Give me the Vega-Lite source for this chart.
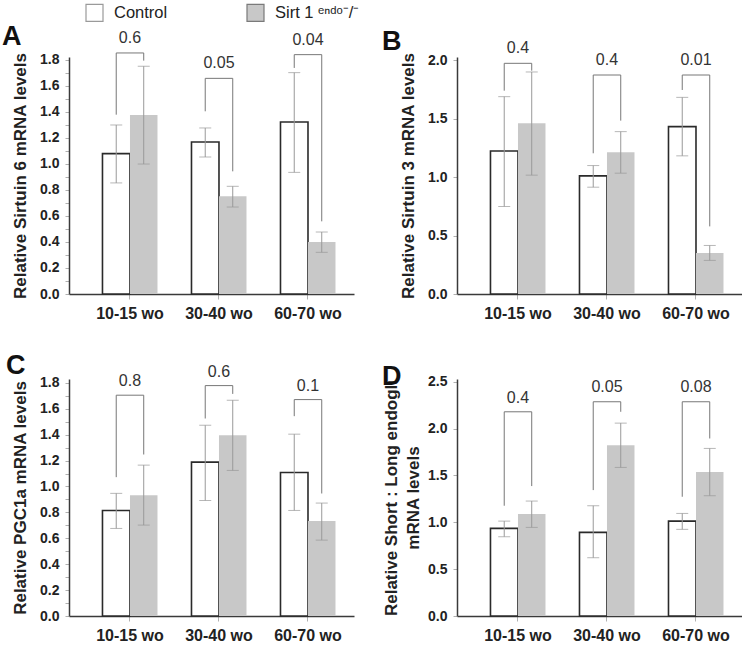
{
  "$schema": "https://vega.github.io/schema/vega-lite/v6.json",
  "padding": {"left": 2, "top": 3, "right": 0, "bottom": 0},
  "datasets": {
    "bars": [
      {"p": "A", "g": "10-15 wo", "s": "Control", "v": 1.078, "lo": 0.853, "hi": 1.298},
      {"p": "A", "g": "10-15 wo", "s": "Sirt", "v": 1.375, "lo": 0.998, "hi": 1.749},
      {"p": "A", "g": "30-40 wo", "s": "Control", "v": 1.167, "lo": 1.052, "hi": 1.275},
      {"p": "A", "g": "30-40 wo", "s": "Sirt", "v": 0.75, "lo": 0.668, "hi": 0.827},
      {"p": "A", "g": "60-70 wo", "s": "Control", "v": 1.321, "lo": 0.934, "hi": 1.7},
      {"p": "A", "g": "60-70 wo", "s": "Sirt", "v": 0.4, "lo": 0.32, "hi": 0.476},
      {"p": "B", "g": "10-15 wo", "s": "Control", "v": 1.223, "lo": 0.748, "hi": 1.687},
      {"p": "B", "g": "10-15 wo", "s": "Sirt", "v": 1.459, "lo": 1.016, "hi": 1.898},
      {"p": "B", "g": "30-40 wo", "s": "Control", "v": 1.01, "lo": 0.913, "hi": 1.098},
      {"p": "B", "g": "30-40 wo", "s": "Sirt", "v": 1.212, "lo": 1.033, "hi": 1.388},
      {"p": "B", "g": "60-70 wo", "s": "Control", "v": 1.431, "lo": 1.181, "hi": 1.681},
      {"p": "B", "g": "60-70 wo", "s": "Sirt", "v": 0.35, "lo": 0.287, "hi": 0.415},
      {"p": "C", "g": "10-15 wo", "s": "Control", "v": 0.815, "lo": 0.676, "hi": 0.947},
      {"p": "C", "g": "10-15 wo", "s": "Sirt", "v": 0.933, "lo": 0.702, "hi": 1.165},
      {"p": "C", "g": "30-40 wo", "s": "Control", "v": 1.188, "lo": 0.892, "hi": 1.473},
      {"p": "C", "g": "30-40 wo", "s": "Sirt", "v": 1.396, "lo": 1.124, "hi": 1.666},
      {"p": "C", "g": "60-70 wo", "s": "Control", "v": 1.108, "lo": 0.815, "hi": 1.404},
      {"p": "C", "g": "60-70 wo", "s": "Sirt", "v": 0.733, "lo": 0.586, "hi": 0.872},
      {"p": "D", "g": "10-15 wo", "s": "Control", "v": 0.935, "lo": 0.846, "hi": 1.013},
      {"p": "D", "g": "10-15 wo", "s": "Sirt", "v": 1.088, "lo": 0.946, "hi": 1.227},
      {"p": "D", "g": "30-40 wo", "s": "Control", "v": 0.893, "lo": 0.622, "hi": 1.177},
      {"p": "D", "g": "30-40 wo", "s": "Sirt", "v": 1.824, "lo": 1.586, "hi": 2.059},
      {"p": "D", "g": "60-70 wo", "s": "Control", "v": 1.013, "lo": 0.925, "hi": 1.095},
      {"p": "D", "g": "60-70 wo", "s": "Sirt", "v": 1.536, "lo": 1.284, "hi": 1.789}
    ],
    "brackets": [
      {"p": "A", "g": "10-15 wo", "s": "Control", "y": 1.377, "o": 1},
      {"p": "A", "g": "10-15 wo", "s": "Control", "y": 1.851, "o": 2},
      {"p": "A", "g": "10-15 wo", "s": "Sirt", "y": 1.851, "o": 3},
      {"p": "A", "g": "10-15 wo", "s": "Sirt", "y": 1.792, "o": 4},
      {"p": "A", "g": "30-40 wo", "s": "Control", "y": 1.403, "o": 1},
      {"p": "A", "g": "30-40 wo", "s": "Control", "y": 1.656, "o": 2},
      {"p": "A", "g": "30-40 wo", "s": "Sirt", "y": 1.656, "o": 3},
      {"p": "A", "g": "30-40 wo", "s": "Sirt", "y": 0.942, "o": 4},
      {"p": "A", "g": "60-70 wo", "s": "Control", "y": 1.736, "o": 1},
      {"p": "A", "g": "60-70 wo", "s": "Control", "y": 1.838, "o": 2},
      {"p": "A", "g": "60-70 wo", "s": "Sirt", "y": 1.838, "o": 3},
      {"p": "A", "g": "60-70 wo", "s": "Sirt", "y": 0.558, "o": 4},
      {"p": "B", "g": "10-15 wo", "s": "Control", "y": 1.738, "o": 1},
      {"p": "B", "g": "10-15 wo", "s": "Control", "y": 1.972, "o": 2},
      {"p": "B", "g": "10-15 wo", "s": "Sirt", "y": 1.972, "o": 3},
      {"p": "B", "g": "10-15 wo", "s": "Sirt", "y": 1.909, "o": 4},
      {"p": "B", "g": "30-40 wo", "s": "Control", "y": 1.203, "o": 1},
      {"p": "B", "g": "30-40 wo", "s": "Control", "y": 1.872, "o": 2},
      {"p": "B", "g": "30-40 wo", "s": "Sirt", "y": 1.872, "o": 3},
      {"p": "B", "g": "30-40 wo", "s": "Sirt", "y": 1.482, "o": 4},
      {"p": "B", "g": "60-70 wo", "s": "Control", "y": 1.744, "o": 1},
      {"p": "B", "g": "60-70 wo", "s": "Control", "y": 1.872, "o": 2},
      {"p": "B", "g": "60-70 wo", "s": "Sirt", "y": 1.872, "o": 3},
      {"p": "B", "g": "60-70 wo", "s": "Sirt", "y": 0.578, "o": 4},
      {"p": "C", "g": "10-15 wo", "s": "Control", "y": 1.072, "o": 1},
      {"p": "C", "g": "10-15 wo", "s": "Control", "y": 1.705, "o": 2},
      {"p": "C", "g": "10-15 wo", "s": "Sirt", "y": 1.705, "o": 3},
      {"p": "C", "g": "10-15 wo", "s": "Sirt", "y": 1.247, "o": 4},
      {"p": "C", "g": "30-40 wo", "s": "Control", "y": 1.525, "o": 1},
      {"p": "C", "g": "30-40 wo", "s": "Control", "y": 1.779, "o": 2},
      {"p": "C", "g": "30-40 wo", "s": "Sirt", "y": 1.779, "o": 3},
      {"p": "C", "g": "30-40 wo", "s": "Sirt", "y": 1.715, "o": 4},
      {"p": "C", "g": "60-70 wo", "s": "Control", "y": 1.543, "o": 1},
      {"p": "C", "g": "60-70 wo", "s": "Control", "y": 1.671, "o": 2},
      {"p": "C", "g": "60-70 wo", "s": "Sirt", "y": 1.671, "o": 3},
      {"p": "C", "g": "60-70 wo", "s": "Sirt", "y": 0.946, "o": 4},
      {"p": "D", "g": "10-15 wo", "s": "Control", "y": 1.177, "o": 1},
      {"p": "D", "g": "10-15 wo", "s": "Control", "y": 2.18, "o": 2},
      {"p": "D", "g": "10-15 wo", "s": "Sirt", "y": 2.18, "o": 3},
      {"p": "D", "g": "10-15 wo", "s": "Sirt", "y": 1.387, "o": 4},
      {"p": "D", "g": "30-40 wo", "s": "Control", "y": 1.344, "o": 1},
      {"p": "D", "g": "30-40 wo", "s": "Control", "y": 2.287, "o": 2},
      {"p": "D", "g": "30-40 wo", "s": "Sirt", "y": 2.287, "o": 3},
      {"p": "D", "g": "30-40 wo", "s": "Sirt", "y": 2.18, "o": 4},
      {"p": "D", "g": "60-70 wo", "s": "Control", "y": 1.273, "o": 1},
      {"p": "D", "g": "60-70 wo", "s": "Control", "y": 2.287, "o": 2},
      {"p": "D", "g": "60-70 wo", "s": "Sirt", "y": 2.287, "o": 3},
      {"p": "D", "g": "60-70 wo", "s": "Sirt", "y": 1.895, "o": 4}
    ],
    "labels": [
      {"p": "A", "g": "10-15 wo", "y": 1.966, "t": "0.6"},
      {"p": "A", "g": "30-40 wo", "y": 1.774, "t": "0.05"},
      {"p": "A", "g": "60-70 wo", "y": 1.953, "t": "0.04"},
      {"p": "B", "g": "10-15 wo", "y": 2.1, "t": "0.4"},
      {"p": "B", "g": "30-40 wo", "y": 2.0, "t": "0.4"},
      {"p": "B", "g": "60-70 wo", "y": 2.0, "t": "0.01"},
      {"p": "C", "g": "10-15 wo", "y": 1.818, "t": "0.8"},
      {"p": "C", "g": "30-40 wo", "y": 1.885, "t": "0.6"},
      {"p": "C", "g": "60-70 wo", "y": 1.779, "t": "0.1"},
      {"p": "D", "g": "10-15 wo", "y": 2.329, "t": "0.4"},
      {"p": "D", "g": "30-40 wo", "y": 2.447, "t": "0.05"},
      {"p": "D", "g": "60-70 wo", "y": 2.44, "t": "0.08"}
    ]
  },
  "columns": 2,
  "spacing": {"row": 85, "column": 103},
  "bounds": "flush",
  "concat": [
    {
      "width": 285, "height": 237,
      "title": {"text": "A", "anchor": "start", "frame": "group", "dx": -67, "dy": 25},
      "encoding": {"x": {"field": "g", "type": "nominal", "title": null, "scale": {"domain": ["10-15 wo", "30-40 wo", "60-70 wo"], "paddingInner": 0.382, "paddingOuter": 0.292, "align": 0.644}}},
      "layer": [
        {"data": {"name": "bars"}, "transform": [{"filter": "datum.p == 'A'"}],
         "mark": {"type": "bar", "strokeWidth": 1.6},
         "encoding": {
           "xOffset": {"field": "s", "type": "nominal", "scale": {"domain": ["Control", "Sirt"], "paddingInner": 0, "paddingOuter": 0}},
           "y": {"field": "v", "type": "quantitative", "scale": {"domain": [0, 1.82], "nice": false}, "axis": {"title": "Relative Sirtuin 6 mRNA levels", "labelOverlap": false, "values": [0, 0.1, 0.2, 0.3, 0.4, 0.5, 0.6, 0.7, 0.8, 0.9, 1.0, 1.1, 1.2, 1.3, 1.4, 1.5, 1.6, 1.7, 1.8], "labelExpr": "round(datum.value*10) % 2 == 0 ? format(datum.value, '.1f') : ''"}},
           "fill": {"field": "s", "type": "nominal", "scale": {"domain": ["Control", "Sirt"], "range": ["#ffffff", "#c8c8c8"]}, "legend": {"labelExpr": "datum.value == 'Sirt' ? 'Sirt 1 ᵉⁿᵈᵒ⁻/⁻' : 'Control'", "encode": {"symbols": {"update": {"fill": {"signal": "datum.value == 'Sirt' ? '#8c8c8c' : '#ffffff'"}, "stroke": {"signal": "datum.value == 'Sirt' ? '#7a7a7a' : '#9a9a9a'"}, "strokeWidth": {"value": 1.2}}}}}},
           "stroke": {"condition": {"test": "datum.s == 'Control'", "value": "#2a2a2a"}, "value": "transparent"}
         }},
        {"data": {"name": "bars"}, "transform": [{"filter": "datum.p == 'A'"}],
         "mark": {"type": "rule", "color": "#999999", "strokeWidth": 1},
         "encoding": {"xOffset": {"field": "s", "type": "nominal", "scale": {"domain": ["Control", "Sirt"], "paddingInner": 0, "paddingOuter": 0}}, "y": {"field": "lo", "type": "quantitative", "scale": {"domain": [0, 1.82], "nice": false}, "axis": {"title": "Relative Sirtuin 6 mRNA levels", "labelOverlap": false, "values": [0, 0.1, 0.2, 0.3, 0.4, 0.5, 0.6, 0.7, 0.8, 0.9, 1.0, 1.1, 1.2, 1.3, 1.4, 1.5, 1.6, 1.7, 1.8], "labelExpr": "round(datum.value*10) % 2 == 0 ? format(datum.value, '.1f') : ''"}}, "y2": {"field": "hi"}}},
        {"data": {"name": "bars"}, "transform": [{"filter": "datum.p == 'A'"}],
         "mark": {"type": "tick", "color": "#999999", "size": 12, "thickness": 1},
         "encoding": {"xOffset": {"field": "s", "type": "nominal", "scale": {"domain": ["Control", "Sirt"], "paddingInner": 0, "paddingOuter": 0}}, "y": {"field": "lo", "type": "quantitative", "scale": {"domain": [0, 1.82], "nice": false}, "axis": {"title": "Relative Sirtuin 6 mRNA levels", "labelOverlap": false, "values": [0, 0.1, 0.2, 0.3, 0.4, 0.5, 0.6, 0.7, 0.8, 0.9, 1.0, 1.1, 1.2, 1.3, 1.4, 1.5, 1.6, 1.7, 1.8], "labelExpr": "round(datum.value*10) % 2 == 0 ? format(datum.value, '.1f') : ''"}}}},
        {"data": {"name": "bars"}, "transform": [{"filter": "datum.p == 'A'"}],
         "mark": {"type": "tick", "color": "#999999", "size": 12, "thickness": 1},
         "encoding": {"xOffset": {"field": "s", "type": "nominal", "scale": {"domain": ["Control", "Sirt"], "paddingInner": 0, "paddingOuter": 0}}, "y": {"field": "hi", "type": "quantitative", "scale": {"domain": [0, 1.82], "nice": false}, "axis": {"title": "Relative Sirtuin 6 mRNA levels", "labelOverlap": false, "values": [0, 0.1, 0.2, 0.3, 0.4, 0.5, 0.6, 0.7, 0.8, 0.9, 1.0, 1.1, 1.2, 1.3, 1.4, 1.5, 1.6, 1.7, 1.8], "labelExpr": "round(datum.value*10) % 2 == 0 ? format(datum.value, '.1f') : ''"}}}},
        {"data": {"name": "brackets"}, "transform": [{"filter": "datum.p == 'A'"}],
         "mark": {"type": "line", "color": "#777777", "strokeWidth": 1},
         "encoding": {"xOffset": {"field": "s", "type": "nominal", "scale": {"domain": ["Control", "Sirt"], "paddingInner": 0, "paddingOuter": 0}}, "y": {"field": "y", "type": "quantitative", "scale": {"domain": [0, 1.82], "nice": false}, "axis": {"title": "Relative Sirtuin 6 mRNA levels", "labelOverlap": false, "values": [0, 0.1, 0.2, 0.3, 0.4, 0.5, 0.6, 0.7, 0.8, 0.9, 1.0, 1.1, 1.2, 1.3, 1.4, 1.5, 1.6, 1.7, 1.8], "labelExpr": "round(datum.value*10) % 2 == 0 ? format(datum.value, '.1f') : ''"}}, "order": {"field": "o", "type": "quantitative"}, "detail": {"field": "g", "type": "nominal"}}},
        {"data": {"name": "labels"}, "transform": [{"filter": "datum.p == 'A'"}],
         "mark": {"type": "text", "fontSize": 16, "color": "#333333", "baseline": "middle"},
         "encoding": {"y": {"field": "y", "type": "quantitative", "scale": {"domain": [0, 1.82], "nice": false}, "axis": {"title": "Relative Sirtuin 6 mRNA levels", "labelOverlap": false, "values": [0, 0.1, 0.2, 0.3, 0.4, 0.5, 0.6, 0.7, 0.8, 0.9, 1.0, 1.1, 1.2, 1.3, 1.4, 1.5, 1.6, 1.7, 1.8], "labelExpr": "round(datum.value*10) % 2 == 0 ? format(datum.value, '.1f') : ''"}}, "text": {"field": "t"}}}
      ]
    },
    {
      "width": 285, "height": 237,
      "title": {"text": "B", "anchor": "start", "frame": "group", "dx": -75, "dy": 20},
      "encoding": {"x": {"field": "g", "type": "nominal", "title": null, "scale": {"domain": ["10-15 wo", "30-40 wo", "60-70 wo"], "paddingInner": 0.382, "paddingOuter": 0.292, "align": 0.644}}},
      "layer": [
        {"data": {"name": "bars"}, "transform": [{"filter": "datum.p == 'B'"}],
         "mark": {"type": "bar", "strokeWidth": 1.6},
         "encoding": {
           "xOffset": {"field": "s", "type": "nominal", "scale": {"domain": ["Control", "Sirt"], "paddingInner": 0, "paddingOuter": 0}},
           "y": {"field": "v", "type": "quantitative", "scale": {"domain": [0, 2.026], "nice": false}, "axis": {"title": "Relative Sirtuin 3 mRNA levels", "values": [0, 0.5, 1.0, 1.5, 2.0], "format": ".1f"}},
           "fill": {"field": "s", "type": "nominal", "scale": {"domain": ["Control", "Sirt"], "range": ["#ffffff", "#c8c8c8"]}, "legend": {"labelExpr": "datum.value == 'Sirt' ? 'Sirt 1 ᵉⁿᵈᵒ⁻/⁻' : 'Control'", "encode": {"symbols": {"update": {"fill": {"signal": "datum.value == 'Sirt' ? '#8c8c8c' : '#ffffff'"}, "stroke": {"signal": "datum.value == 'Sirt' ? '#7a7a7a' : '#9a9a9a'"}, "strokeWidth": {"value": 1.2}}}}}},
           "stroke": {"condition": {"test": "datum.s == 'Control'", "value": "#2a2a2a"}, "value": "transparent"}
         }},
        {"data": {"name": "bars"}, "transform": [{"filter": "datum.p == 'B'"}],
         "mark": {"type": "rule", "color": "#999999", "strokeWidth": 1},
         "encoding": {"xOffset": {"field": "s", "type": "nominal", "scale": {"domain": ["Control", "Sirt"], "paddingInner": 0, "paddingOuter": 0}}, "y": {"field": "lo", "type": "quantitative", "scale": {"domain": [0, 2.026], "nice": false}}, "y2": {"field": "hi"}}},
        {"data": {"name": "bars"}, "transform": [{"filter": "datum.p == 'B'"}],
         "mark": {"type": "tick", "color": "#999999", "size": 12, "thickness": 1},
         "encoding": {"xOffset": {"field": "s", "type": "nominal", "scale": {"domain": ["Control", "Sirt"], "paddingInner": 0, "paddingOuter": 0}}, "y": {"field": "lo", "type": "quantitative", "scale": {"domain": [0, 2.026], "nice": false}}}},
        {"data": {"name": "bars"}, "transform": [{"filter": "datum.p == 'B'"}],
         "mark": {"type": "tick", "color": "#999999", "size": 12, "thickness": 1},
         "encoding": {"xOffset": {"field": "s", "type": "nominal", "scale": {"domain": ["Control", "Sirt"], "paddingInner": 0, "paddingOuter": 0}}, "y": {"field": "hi", "type": "quantitative", "scale": {"domain": [0, 2.026], "nice": false}}}},
        {"data": {"name": "brackets"}, "transform": [{"filter": "datum.p == 'B'"}],
         "mark": {"type": "line", "color": "#777777", "strokeWidth": 1},
         "encoding": {"xOffset": {"field": "s", "type": "nominal", "scale": {"domain": ["Control", "Sirt"], "paddingInner": 0, "paddingOuter": 0}}, "y": {"field": "y", "type": "quantitative", "scale": {"domain": [0, 2.026], "nice": false}}, "order": {"field": "o", "type": "quantitative"}, "detail": {"field": "g", "type": "nominal"}}},
        {"data": {"name": "labels"}, "transform": [{"filter": "datum.p == 'B'"}],
         "mark": {"type": "text", "fontSize": 16, "color": "#333333", "baseline": "middle"},
         "encoding": {"y": {"field": "y", "type": "quantitative", "scale": {"domain": [0, 2.026], "nice": false}}, "text": {"field": "t"}}}
      ]
    },
    {
      "width": 285, "height": 237,
      "title": {"text": "C", "anchor": "start", "frame": "group", "dx": -63, "dy": 20},
      "encoding": {"x": {"field": "g", "type": "nominal", "title": null, "scale": {"domain": ["10-15 wo", "30-40 wo", "60-70 wo"], "paddingInner": 0.382, "paddingOuter": 0.292, "align": 0.644}}},
      "layer": [
        {"data": {"name": "bars"}, "transform": [{"filter": "datum.p == 'C'"}],
         "mark": {"type": "bar", "strokeWidth": 1.6},
         "encoding": {
           "xOffset": {"field": "s", "type": "nominal", "scale": {"domain": ["Control", "Sirt"], "paddingInner": 0, "paddingOuter": 0}},
           "y": {"field": "v", "type": "quantitative", "scale": {"domain": [0, 1.83], "nice": false}, "axis": {"title": "Relative PGC1a mRNA levels", "labelOverlap": false, "values": [0, 0.1, 0.2, 0.3, 0.4, 0.5, 0.6, 0.7, 0.8, 0.9, 1.0, 1.1, 1.2, 1.3, 1.4, 1.5, 1.6, 1.7, 1.8], "labelExpr": "round(datum.value*10) % 2 == 0 ? format(datum.value, '.1f') : ''"}},
           "fill": {"field": "s", "type": "nominal", "scale": {"domain": ["Control", "Sirt"], "range": ["#ffffff", "#c8c8c8"]}, "legend": {"labelExpr": "datum.value == 'Sirt' ? 'Sirt 1 ᵉⁿᵈᵒ⁻/⁻' : 'Control'", "encode": {"symbols": {"update": {"fill": {"signal": "datum.value == 'Sirt' ? '#8c8c8c' : '#ffffff'"}, "stroke": {"signal": "datum.value == 'Sirt' ? '#7a7a7a' : '#9a9a9a'"}, "strokeWidth": {"value": 1.2}}}}}},
           "stroke": {"condition": {"test": "datum.s == 'Control'", "value": "#2a2a2a"}, "value": "transparent"}
         }},
        {"data": {"name": "bars"}, "transform": [{"filter": "datum.p == 'C'"}],
         "mark": {"type": "rule", "color": "#999999", "strokeWidth": 1},
         "encoding": {"xOffset": {"field": "s", "type": "nominal", "scale": {"domain": ["Control", "Sirt"], "paddingInner": 0, "paddingOuter": 0}}, "y": {"field": "lo", "type": "quantitative", "scale": {"domain": [0, 1.83], "nice": false}, "axis": {"title": "Relative PGC1a mRNA levels", "labelOverlap": false, "values": [0, 0.1, 0.2, 0.3, 0.4, 0.5, 0.6, 0.7, 0.8, 0.9, 1.0, 1.1, 1.2, 1.3, 1.4, 1.5, 1.6, 1.7, 1.8], "labelExpr": "round(datum.value*10) % 2 == 0 ? format(datum.value, '.1f') : ''"}}, "y2": {"field": "hi"}}},
        {"data": {"name": "bars"}, "transform": [{"filter": "datum.p == 'C'"}],
         "mark": {"type": "tick", "color": "#999999", "size": 12, "thickness": 1},
         "encoding": {"xOffset": {"field": "s", "type": "nominal", "scale": {"domain": ["Control", "Sirt"], "paddingInner": 0, "paddingOuter": 0}}, "y": {"field": "lo", "type": "quantitative", "scale": {"domain": [0, 1.83], "nice": false}, "axis": {"title": "Relative PGC1a mRNA levels", "labelOverlap": false, "values": [0, 0.1, 0.2, 0.3, 0.4, 0.5, 0.6, 0.7, 0.8, 0.9, 1.0, 1.1, 1.2, 1.3, 1.4, 1.5, 1.6, 1.7, 1.8], "labelExpr": "round(datum.value*10) % 2 == 0 ? format(datum.value, '.1f') : ''"}}}},
        {"data": {"name": "bars"}, "transform": [{"filter": "datum.p == 'C'"}],
         "mark": {"type": "tick", "color": "#999999", "size": 12, "thickness": 1},
         "encoding": {"xOffset": {"field": "s", "type": "nominal", "scale": {"domain": ["Control", "Sirt"], "paddingInner": 0, "paddingOuter": 0}}, "y": {"field": "hi", "type": "quantitative", "scale": {"domain": [0, 1.83], "nice": false}, "axis": {"title": "Relative PGC1a mRNA levels", "labelOverlap": false, "values": [0, 0.1, 0.2, 0.3, 0.4, 0.5, 0.6, 0.7, 0.8, 0.9, 1.0, 1.1, 1.2, 1.3, 1.4, 1.5, 1.6, 1.7, 1.8], "labelExpr": "round(datum.value*10) % 2 == 0 ? format(datum.value, '.1f') : ''"}}}},
        {"data": {"name": "brackets"}, "transform": [{"filter": "datum.p == 'C'"}],
         "mark": {"type": "line", "color": "#777777", "strokeWidth": 1},
         "encoding": {"xOffset": {"field": "s", "type": "nominal", "scale": {"domain": ["Control", "Sirt"], "paddingInner": 0, "paddingOuter": 0}}, "y": {"field": "y", "type": "quantitative", "scale": {"domain": [0, 1.83], "nice": false}, "axis": {"title": "Relative PGC1a mRNA levels", "labelOverlap": false, "values": [0, 0.1, 0.2, 0.3, 0.4, 0.5, 0.6, 0.7, 0.8, 0.9, 1.0, 1.1, 1.2, 1.3, 1.4, 1.5, 1.6, 1.7, 1.8], "labelExpr": "round(datum.value*10) % 2 == 0 ? format(datum.value, '.1f') : ''"}}, "order": {"field": "o", "type": "quantitative"}, "detail": {"field": "g", "type": "nominal"}}},
        {"data": {"name": "labels"}, "transform": [{"filter": "datum.p == 'C'"}],
         "mark": {"type": "text", "fontSize": 16, "color": "#333333", "baseline": "middle"},
         "encoding": {"y": {"field": "y", "type": "quantitative", "scale": {"domain": [0, 1.83], "nice": false}, "axis": {"title": "Relative PGC1a mRNA levels", "labelOverlap": false, "values": [0, 0.1, 0.2, 0.3, 0.4, 0.5, 0.6, 0.7, 0.8, 0.9, 1.0, 1.1, 1.2, 1.3, 1.4, 1.5, 1.6, 1.7, 1.8], "labelExpr": "round(datum.value*10) % 2 == 0 ? format(datum.value, '.1f') : ''"}}, "text": {"field": "t"}}}
      ]
    },
    {
      "width": 285, "height": 237,
      "title": {"text": "D", "anchor": "start", "frame": "group", "dx": -75, "dy": 20},
      "encoding": {"x": {"field": "g", "type": "nominal", "title": null, "scale": {"domain": ["10-15 wo", "30-40 wo", "60-70 wo"], "paddingInner": 0.382, "paddingOuter": 0.292, "align": 0.644}}},
      "layer": [
        {"data": {"name": "bars"}, "transform": [{"filter": "datum.p == 'D'"}],
         "mark": {"type": "bar", "strokeWidth": 1.6},
         "encoding": {
           "xOffset": {"field": "s", "type": "nominal", "scale": {"domain": ["Control", "Sirt"], "paddingInner": 0, "paddingOuter": 0}},
           "y": {"field": "v", "type": "quantitative", "scale": {"domain": [0, 2.53], "nice": false}, "axis": {"title": ["Relative Short : Long endogli", "mRNA levels"], "titleLineHeight": 22, "titlePadding": 5, "values": [0, 0.5, 1.0, 1.5, 2.0, 2.5], "format": ".1f"}},
           "fill": {"field": "s", "type": "nominal", "scale": {"domain": ["Control", "Sirt"], "range": ["#ffffff", "#c8c8c8"]}, "legend": {"labelExpr": "datum.value == 'Sirt' ? 'Sirt 1 ᵉⁿᵈᵒ⁻/⁻' : 'Control'", "encode": {"symbols": {"update": {"fill": {"signal": "datum.value == 'Sirt' ? '#8c8c8c' : '#ffffff'"}, "stroke": {"signal": "datum.value == 'Sirt' ? '#7a7a7a' : '#9a9a9a'"}, "strokeWidth": {"value": 1.2}}}}}},
           "stroke": {"condition": {"test": "datum.s == 'Control'", "value": "#2a2a2a"}, "value": "transparent"}
         }},
        {"data": {"name": "bars"}, "transform": [{"filter": "datum.p == 'D'"}],
         "mark": {"type": "rule", "color": "#999999", "strokeWidth": 1},
         "encoding": {"xOffset": {"field": "s", "type": "nominal", "scale": {"domain": ["Control", "Sirt"], "paddingInner": 0, "paddingOuter": 0}}, "y": {"field": "lo", "type": "quantitative", "scale": {"domain": [0, 2.53], "nice": false}}, "y2": {"field": "hi"}}},
        {"data": {"name": "bars"}, "transform": [{"filter": "datum.p == 'D'"}],
         "mark": {"type": "tick", "color": "#999999", "size": 12, "thickness": 1},
         "encoding": {"xOffset": {"field": "s", "type": "nominal", "scale": {"domain": ["Control", "Sirt"], "paddingInner": 0, "paddingOuter": 0}}, "y": {"field": "lo", "type": "quantitative", "scale": {"domain": [0, 2.53], "nice": false}}}},
        {"data": {"name": "bars"}, "transform": [{"filter": "datum.p == 'D'"}],
         "mark": {"type": "tick", "color": "#999999", "size": 12, "thickness": 1},
         "encoding": {"xOffset": {"field": "s", "type": "nominal", "scale": {"domain": ["Control", "Sirt"], "paddingInner": 0, "paddingOuter": 0}}, "y": {"field": "hi", "type": "quantitative", "scale": {"domain": [0, 2.53], "nice": false}}}},
        {"data": {"name": "brackets"}, "transform": [{"filter": "datum.p == 'D'"}],
         "mark": {"type": "line", "color": "#777777", "strokeWidth": 1},
         "encoding": {"xOffset": {"field": "s", "type": "nominal", "scale": {"domain": ["Control", "Sirt"], "paddingInner": 0, "paddingOuter": 0}}, "y": {"field": "y", "type": "quantitative", "scale": {"domain": [0, 2.53], "nice": false}}, "order": {"field": "o", "type": "quantitative"}, "detail": {"field": "g", "type": "nominal"}}},
        {"data": {"name": "labels"}, "transform": [{"filter": "datum.p == 'D'"}],
         "mark": {"type": "text", "fontSize": 16, "color": "#333333", "baseline": "middle"},
         "encoding": {"y": {"field": "y", "type": "quantitative", "scale": {"domain": [0, 2.53], "nice": false}}, "text": {"field": "t"}}}
      ]
    }
  ],
  "config": {
    "font": "Liberation Sans",
    "view": {"stroke": null},
    "title": {"fontSize": 27, "fontWeight": "bold", "color": "#111111", "offset": 0, "font": "Liberation Sans"},
    "axis": {"grid": false, "labelOverlap": false, "domainColor": "#3a3a3a", "domainWidth": 1.5, "tickColor": "#b0b0b0", "tickWidth": 1, "labelColor": "#222222", "titleColor": "#222222", "labelFont": "Liberation Sans", "titleFont": "Liberation Sans", "labelFontWeight": "bold", "titleFontWeight": "bold"},
    "axisY": {"tickSize": 4, "labelPadding": 6, "labelFontSize": 14, "titleFontSize": 17, "titlePadding": 10},
    "axisX": {"tickSize": 5, "labelFontSize": 16, "labelPadding": 6, "labelAngle": 0},
    "legend": {"orient": "none", "legendX": 16, "legendY": -54, "direction": "horizontal", "title": null, "symbolType": "square", "symbolSize": 289, "symbolStrokeWidth": 1, "symbolStrokeColor": "#9a9a9a", "labelFontSize": 16.5, "labelColor": "#222222", "labelFont": "Liberation Sans", "labelOffset": 10, "columnPadding": 76, "labelLimit": 300}
  }
}
